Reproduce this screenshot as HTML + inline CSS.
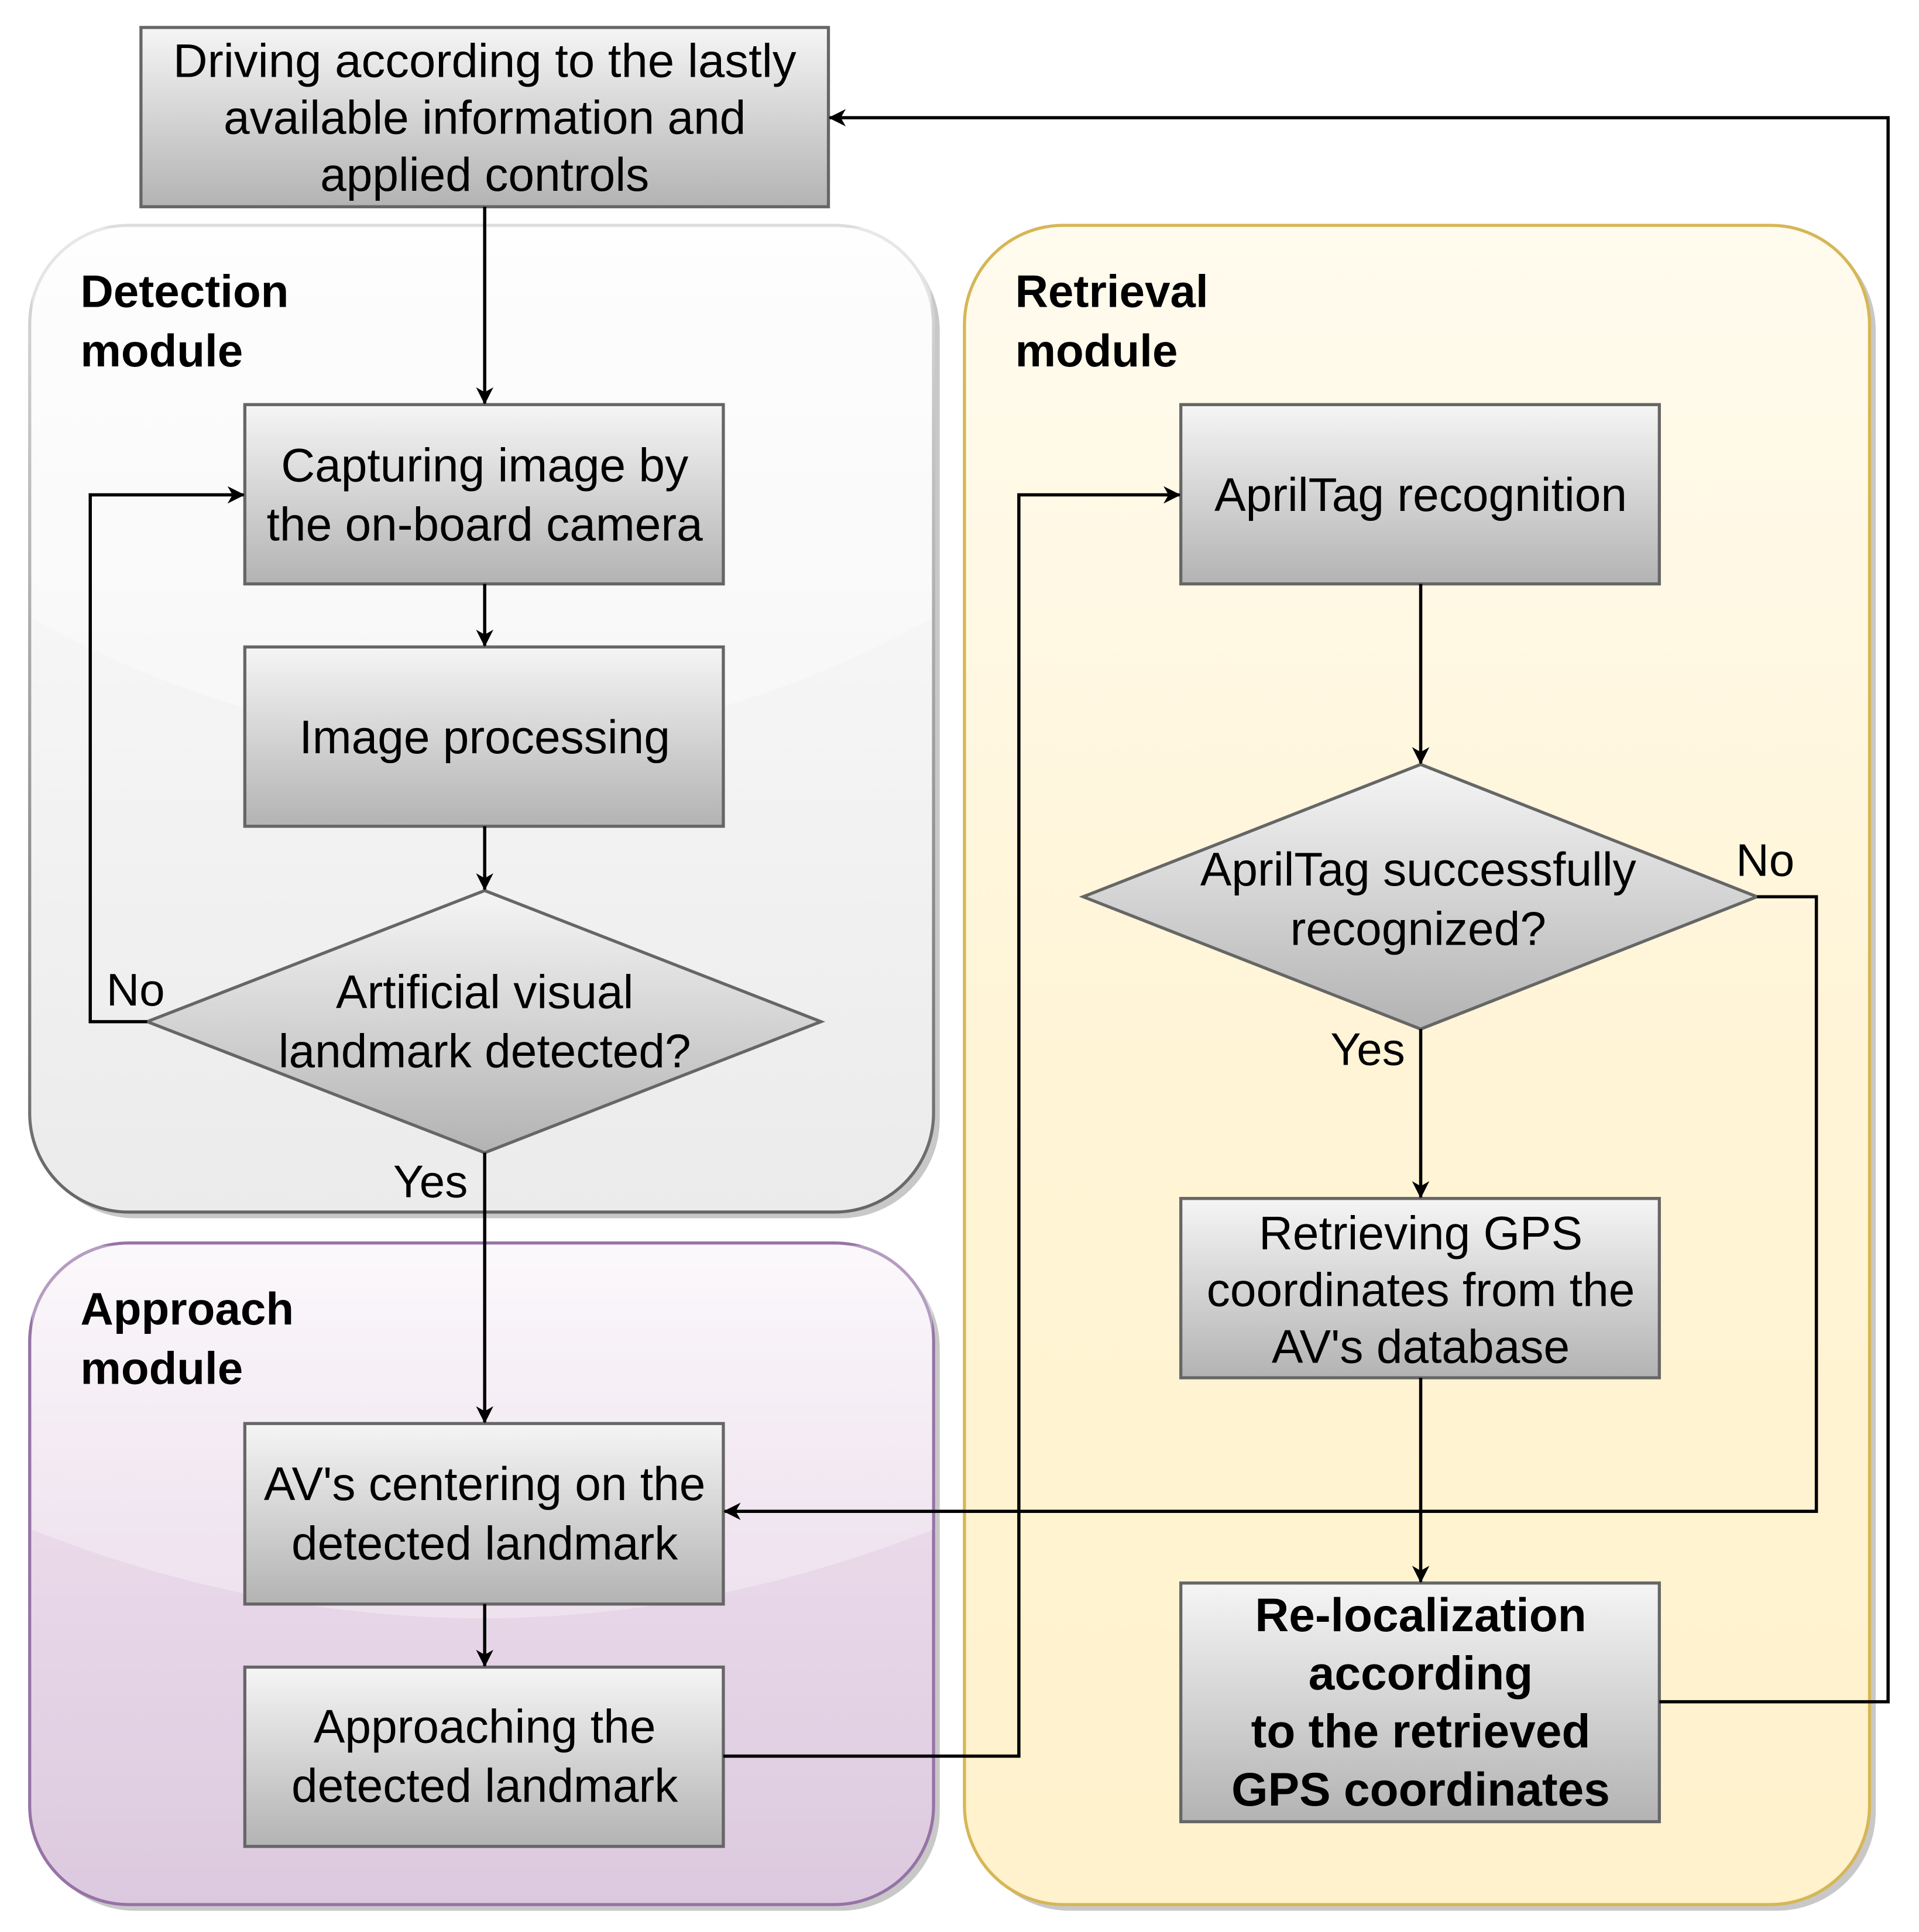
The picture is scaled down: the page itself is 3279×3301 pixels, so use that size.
<!DOCTYPE html>
<html><head><meta charset="utf-8"><style>
html,body{margin:0;padding:0;background:#fff;}
svg{display:block;}
text{font-family:"Liberation Sans",Arial,sans-serif;fill:#000;}
</style></head><body>
<svg width="3279" height="3301" viewBox="0 0 1552 1562" xmlns="http://www.w3.org/2000/svg">
<defs>
<linearGradient id="box" x1="0" y1="0" x2="0" y2="1"><stop offset="0" stop-color="#f5f5f5"/><stop offset="1" stop-color="#b3b3b3"/></linearGradient>
<linearGradient id="det" x1="0" y1="0" x2="0" y2="1"><stop offset="0" stop-color="#fdfdfd"/><stop offset="1" stop-color="#ebebeb"/></linearGradient>
<linearGradient id="detS" x1="0" y1="0" x2="0" y2="1"><stop offset="0" stop-color="#dddddd"/><stop offset="1" stop-color="#666666"/></linearGradient>
<linearGradient id="ret" x1="0" y1="0" x2="0" y2="1"><stop offset="0" stop-color="#fffbee"/><stop offset="0.5" stop-color="#fff4d6"/><stop offset="1" stop-color="#fff2cc"/></linearGradient>
<linearGradient id="app" x1="0" y1="0" x2="0" y2="1"><stop offset="0" stop-color="#faf6fa"/><stop offset="0.45" stop-color="#e9d9e9"/><stop offset="1" stop-color="#dcc9df"/></linearGradient>
<marker id="ar" viewBox="0 0 14 14" refX="13" refY="7" markerWidth="14" markerHeight="14" markerUnits="userSpaceOnUse" orient="auto"><path d="M0,0 L14,7 L0,14 L4,7 Z" fill="#000"/></marker>
</defs>

<rect x="29" y="187" width="731" height="798" rx="80" fill="#c8c8c8"/>
<rect x="785" y="187" width="732" height="1358" rx="80" fill="#c8c8c8"/>
<rect x="29" y="1010" width="731" height="535" rx="80" fill="#c8c8c8"/>

<rect x="24" y="182" width="731" height="798" rx="80" fill="url(#det)" stroke="url(#detS)" stroke-width="2.5"/>
<path d="M26,184 H753 V500 Q390,700 26,500 Z" fill="#fff" opacity="0.35"/>
<rect x="780" y="182" width="732" height="1358" rx="80" fill="url(#ret)" stroke="#d6b656" stroke-width="2.5"/>
<rect x="24" y="1005" width="731" height="535" rx="80" fill="url(#app)" stroke="#9673a6" stroke-width="2.5"/>
<path d="M60,1007 H720 Q754,1010 754,1060 V1237 Q390,1380 26,1237 V1060 Q26,1007 60,1007 Z" fill="#fff" opacity="0.3"/>

<text x="65" y="248" font-size="37" font-weight="bold">Detection</text>
<text x="65" y="296" font-size="37" font-weight="bold">module</text>
<text x="821" y="248" font-size="37" font-weight="bold">Retrieval</text>
<text x="821" y="296" font-size="37" font-weight="bold">module</text>
<text x="65" y="1071" font-size="37" font-weight="bold">Approach</text>
<text x="65" y="1119" font-size="37" font-weight="bold">module</text>

<g stroke="#666" stroke-width="2.5" fill="url(#box)">
<rect x="114" y="22" width="556" height="145"/>
<rect x="198" y="327" width="387" height="145"/>
<rect x="198" y="523" width="387" height="145"/>
<polygon points="392,720 664,826 392,932 119,826"/>
<rect x="198" y="1151" width="387" height="146"/>
<rect x="198" y="1348" width="387" height="145"/>
<rect x="955" y="327" width="387" height="145"/>
<polygon points="1149,618 1421,725 1149,832 876,725"/>
<rect x="955" y="969" width="387" height="145"/>
<rect x="955" y="1280" width="387" height="193"/>
</g>

<g font-size="38" text-anchor="middle">
<text x="392" y="62" textLength="504" lengthAdjust="spacingAndGlyphs">Driving according to the lastly</text>
<text x="392" y="108">available information and</text>
<text x="392" y="154">applied controls</text>
<text x="392" y="389">Capturing image by</text>
<text x="392" y="437">the on-board camera</text>
<text x="392" y="609">Image processing</text>
<text x="392" y="815">Artificial visual</text>
<text x="392" y="863">landmark detected?</text>
<text x="392" y="1213">AV's centering on the</text>
<text x="392" y="1261">detected landmark</text>
<text x="392" y="1409">Approaching the</text>
<text x="392" y="1457">detected landmark</text>
<text x="1149" y="413">AprilTag recognition</text>
<text x="1147" y="716">AprilTag successfully</text>
<text x="1147" y="764">recognized?</text>
<text x="1149" y="1010">Retrieving GPS</text>
<text x="1149" y="1056">coordinates from the</text>
<text x="1149" y="1102">AV's database</text>
<g font-weight="bold">
<text x="1149" y="1319">Re-localization</text>
<text x="1149" y="1366">according</text>
<text x="1149" y="1413">to the retrieved</text>
<text x="1149" y="1460">GPS coordinates</text>
</g>
</g>
<g font-size="37">
<text x="86" y="813">No</text>
<text x="318" y="968">Yes</text>
<text x="1404" y="708">No</text>
<text x="1076" y="861">Yes</text>
</g>

<g stroke="#000" stroke-width="2.6" fill="none" marker-end="url(#ar)">
<path d="M392,167 V326"/>
<path d="M392,472 V522"/>
<path d="M392,668 V719"/>
<path d="M119,826 H73 V400 H197"/>
<path d="M392,932 V1150"/>
<path d="M392,1297 V1347"/>
<path d="M585,1420 H824 V400 H954"/>
<path d="M1149,472 V617"/>
<path d="M1149,832 V968"/>
<path d="M1421,725 H1469 V1222 H586"/>
<path d="M1149,1114 V1279"/>
<path d="M1342,1376 H1527 V95 H671"/>
</g>
</svg>
</body></html>
